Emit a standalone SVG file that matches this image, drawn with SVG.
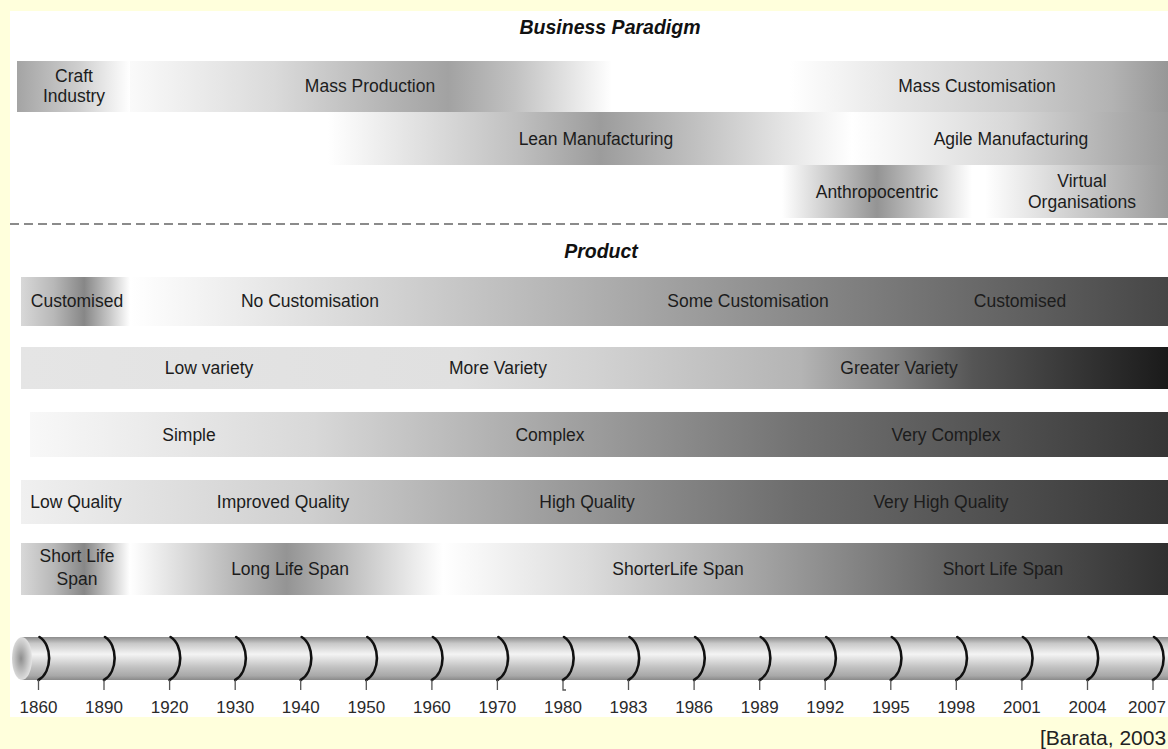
<svg xmlns="http://www.w3.org/2000/svg" width="1168" height="749" viewBox="0 0 1168 749">
  <style>
    .lbl { font-family: "Liberation Sans", Arial, sans-serif; font-size: 17.5px; fill: #1c1c1c; text-anchor: middle; }
    .ttl { font-family: "Liberation Sans", Arial, sans-serif; font-size: 19.5px; font-weight: bold; font-style: italic; fill: #111; text-anchor: middle; }
    .yr { font-family: "Liberation Sans", Arial, sans-serif; font-size: 17px; fill: #2a2a2a; text-anchor: middle; }
    .arc { fill: none; stroke: #111; stroke-width: 2.6; stroke-linecap: round; }
    .tick { fill: none; stroke: #555; stroke-width: 1.3; }
  </style>
  <defs>
    <!-- business paradigm bars -->
    <linearGradient id="gCraft"><stop offset="0" stop-color="#a4a4a4"/><stop offset="0.55" stop-color="#cfcfcf"/><stop offset="1" stop-color="#fff"/></linearGradient>
    <linearGradient id="gMass"><stop offset="0" stop-color="#fafafa"/><stop offset="0.3" stop-color="#dadada"/><stop offset="0.55" stop-color="#b2b2b2"/><stop offset="0.66" stop-color="#a2a2a2"/><stop offset="0.8" stop-color="#c2c2c2"/><stop offset="0.92" stop-color="#e6e6e6"/><stop offset="1" stop-color="#fff"/></linearGradient>
    <linearGradient id="gMassCust"><stop offset="0" stop-color="#fff"/><stop offset="0.3" stop-color="#e4e4e4"/><stop offset="0.6" stop-color="#cdcdcd"/><stop offset="0.85" stop-color="#b3b3b3"/><stop offset="1" stop-color="#979797"/></linearGradient>
    <linearGradient id="gLean"><stop offset="0" stop-color="#fff"/><stop offset="0.13" stop-color="#e8e8e8"/><stop offset="0.36" stop-color="#c0c0c0"/><stop offset="0.52" stop-color="#9c9c9c"/><stop offset="0.7" stop-color="#c0c0c0"/><stop offset="0.86" stop-color="#e2e2e2"/><stop offset="1" stop-color="#fff"/></linearGradient>
    <linearGradient id="gAgile"><stop offset="0" stop-color="#fff"/><stop offset="0.5" stop-color="#d8d8d8"/><stop offset="1" stop-color="#9a9a9a"/></linearGradient>
    <linearGradient id="gPeak"><stop offset="0" stop-color="#fff"/><stop offset="0.5" stop-color="#949494"/><stop offset="1" stop-color="#fff"/></linearGradient>
    <linearGradient id="gVirtual"><stop offset="0" stop-color="#fff"/><stop offset="1" stop-color="#9a9a9a"/></linearGradient>
    <!-- product bars -->
    <linearGradient id="gEarly"><stop offset="0" stop-color="#d8d8d8"/><stop offset="0.3" stop-color="#b8b8b8"/><stop offset="0.58" stop-color="#878787"/><stop offset="0.8" stop-color="#c4c4c4"/><stop offset="1" stop-color="#fff"/></linearGradient>
    <linearGradient id="gCust"><stop offset="0" stop-color="#fff"/><stop offset="0.43" stop-color="#b2b2b2"/><stop offset="1" stop-color="#464646"/></linearGradient>
    <linearGradient id="gVariety"><stop offset="0" stop-color="#e5e5e5"/><stop offset="0.38" stop-color="#e0e0e0"/><stop offset="0.5" stop-color="#d2d2d2"/><stop offset="0.68" stop-color="#b4b4b4"/><stop offset="0.76" stop-color="#858585"/><stop offset="0.83" stop-color="#555"/><stop offset="1" stop-color="#1a1a1a"/></linearGradient>
    <linearGradient id="gComplex"><stop offset="0" stop-color="#f8f8f8"/><stop offset="0.25" stop-color="#d8d8d8"/><stop offset="0.48" stop-color="#a0a0a0"/><stop offset="0.68" stop-color="#717171"/><stop offset="1" stop-color="#363636"/></linearGradient>
    <linearGradient id="gQuality"><stop offset="0" stop-color="#f0f0f0"/><stop offset="0.25" stop-color="#cfcfcf"/><stop offset="0.48" stop-color="#999"/><stop offset="0.68" stop-color="#6c6c6c"/><stop offset="1" stop-color="#363636"/></linearGradient>
    <linearGradient id="gLater"><stop offset="0" stop-color="#fff"/><stop offset="0.2" stop-color="#dcdcdc"/><stop offset="0.45" stop-color="#a0a0a0"/><stop offset="0.7" stop-color="#646464"/><stop offset="1" stop-color="#303030"/></linearGradient>
    <!-- timeline cylinder -->
    <linearGradient id="gTube" x1="0" y1="0" x2="0" y2="1"><stop offset="0" stop-color="#8c8c8c"/><stop offset="0.15" stop-color="#c8c8c8"/><stop offset="0.4" stop-color="#f4f4f4"/><stop offset="0.7" stop-color="#c2c2c2"/><stop offset="0.9" stop-color="#a8a8a8"/><stop offset="1" stop-color="#8a8a8a"/></linearGradient>
    <radialGradient id="gCap" cx="0.45" cy="0.5" r="0.6"><stop offset="0" stop-color="#8e8e8e"/><stop offset="0.6" stop-color="#c8c8c8"/><stop offset="1" stop-color="#ececec"/></radialGradient>
  </defs>

  <!-- page -->
  <rect width="1168" height="749" fill="#ffffdc"/>
  <rect x="10" y="11" width="1158" height="706" fill="#fff"/>

  <text class="ttl" x="610" y="34">Business Paradigm</text>

  <!-- business paradigm -->
  <g id="craft-industry"><rect x="17" y="61" width="113" height="51" fill="url(#gCraft)"/><text class="lbl" x="74" y="82">Craft</text><text class="lbl" x="74" y="102">Industry</text></g>
  <g id="mass-production"><rect x="130" y="61" width="482" height="51" fill="url(#gMass)"/><text class="lbl" x="370" y="92">Mass Production</text></g>
  <g id="mass-customisation"><rect x="790" y="61" width="378" height="51" fill="url(#gMassCust)"/><text class="lbl" x="977" y="92">Mass Customisation</text></g>
  <g id="lean-manufacturing"><rect x="328" y="112" width="524" height="53" fill="url(#gLean)"/><text class="lbl" x="596" y="145">Lean Manufacturing</text></g>
  <g id="agile-manufacturing"><rect x="852" y="112" width="316" height="53" fill="url(#gAgile)"/><text class="lbl" x="1011" y="145">Agile Manufacturing</text></g>
  <g id="anthropocentric"><rect x="782" y="165" width="190" height="53" fill="url(#gPeak)"/><text class="lbl" x="877" y="198">Anthropocentric</text></g>
  <g id="virtual-organisations"><rect x="985" y="165" width="183" height="53" fill="url(#gVirtual)"/><text class="lbl" x="1082" y="187">Virtual</text><text class="lbl" x="1082" y="208">Organisations</text></g>

  <line x1="10" y1="224" x2="1168" y2="224" stroke="#666" stroke-width="1.5" stroke-dasharray="9 5"/>

  <text class="ttl" x="601" y="258">Product</text>

  <!-- product: customisation -->
  <g id="customisation">
    <rect x="21" y="277" width="109" height="49" fill="url(#gEarly)"/>
    <rect x="130" y="277" width="1038" height="49" fill="url(#gCust)"/>
    <text class="lbl" x="77" y="307">Customised</text>
    <text class="lbl" x="310" y="307">No Customisation</text>
    <text class="lbl" x="748" y="307">Some Customisation</text>
    <text class="lbl" x="1020" y="307">Customised</text>
  </g>
  <!-- product: variety -->
  <g id="variety">
    <rect x="21" y="347" width="1147" height="42" fill="url(#gVariety)"/>
    <text class="lbl" x="209" y="374">Low variety</text>
    <text class="lbl" x="498" y="374">More Variety</text>
    <text class="lbl" x="899" y="374">Greater Variety</text>
  </g>
  <!-- product: complexity -->
  <g id="complexity">
    <rect x="30" y="412" width="1138" height="45" fill="url(#gComplex)"/>
    <text class="lbl" x="189" y="441">Simple</text>
    <text class="lbl" x="550" y="441">Complex</text>
    <text class="lbl" x="946" y="441">Very Complex</text>
  </g>
  <!-- product: quality -->
  <g id="quality">
    <rect x="21" y="480" width="1147" height="44" fill="url(#gQuality)"/>
    <text class="lbl" x="76" y="508">Low Quality</text>
    <text class="lbl" x="283" y="508">Improved Quality</text>
    <text class="lbl" x="587" y="508">High Quality</text>
    <text class="lbl" x="941" y="508">Very High Quality</text>
  </g>
  <!-- product: life span -->
  <g id="life-span">
    <rect x="21" y="543" width="109" height="52" fill="url(#gEarly)"/>
    <rect x="130" y="543" width="313" height="52" fill="url(#gPeak)"/>
    <rect x="443" y="543" width="725" height="52" fill="url(#gLater)"/>
    <text class="lbl" x="77" y="562">Short Life</text>
    <text class="lbl" x="77" y="585">Span</text>
    <text class="lbl" x="290" y="575">Long Life Span</text>
    <text class="lbl" x="678" y="575">ShorterLife Span</text>
    <text class="lbl" x="1003" y="575">Short Life Span</text>
  </g>

  <!-- timeline -->
  <g id="timeline">
    <rect x="22" y="637" width="1146" height="43" fill="url(#gTube)"/>
    <ellipse cx="22" cy="658.5" rx="10" ry="21.5" fill="url(#gCap)"/>
  </g>
  <g id="connectors">
    <path class="arc" d="M39.5 637 C52.5 645 52.5 672 38.5 680 M105 637 C118 645 118 672 104 680 M170.6 637 C183.6 645 183.6 672 169.6 680 M236.2 637 C249.2 645 249.2 672 235.2 680 M301.7 637 C314.7 645 314.7 672 300.7 680 M367.3 637 C380.3 645 380.3 672 366.3 680 M432.9 637 C445.9 645 445.9 672 431.9 680 M498.4 637 C511.4 645 511.4 672 497.4 680 M564 637 C577 645 577 672 563 680 M629.5 637 C642.5 645 642.5 672 628.5 680 M695.1 637 C708.1 645 708.1 672 694.1 680 M760.7 637 C773.7 645 773.7 672 759.7 680 M826.2 637 C839.2 645 839.2 672 825.2 680 M891.8 637 C904.8 645 904.8 672 890.8 680 M957.3 637 C970.3 645 970.3 672 956.3 680 M1022.9 637 C1035.9 645 1035.9 672 1021.9 680 M1088.5 637 C1101.5 645 1101.5 672 1087.5 680 M1154 637 C1167 645 1167 672 1153 680"/>
    <path class="tick" d="M38.5 680V690 M104 680V690 M169.6 680V690 M235.2 680V690 M300.7 680V690 M366.3 680V690 M431.9 680V690 M497.4 680V690 M563 680V690H566 M628.5 680V690 M694.1 680V690 M759.7 680V690 M825.2 680V690 M890.8 680V690 M956.3 680V690 M1021.9 680V690 M1087.5 680V690 M1153 680V690"/>
  </g>
  <g id="years">
    <text class="yr" x="38.5" y="713">1860</text>
    <text class="yr" x="104" y="713">1890</text>
    <text class="yr" x="169.6" y="713">1920</text>
    <text class="yr" x="235.2" y="713">1930</text>
    <text class="yr" x="300.7" y="713">1940</text>
    <text class="yr" x="366.3" y="713">1950</text>
    <text class="yr" x="431.9" y="713">1960</text>
    <text class="yr" x="497.4" y="713">1970</text>
    <text class="yr" x="563" y="713">1980</text>
    <text class="yr" x="628.5" y="713">1983</text>
    <text class="yr" x="694.1" y="713">1986</text>
    <text class="yr" x="759.7" y="713">1989</text>
    <text class="yr" x="825.2" y="713">1992</text>
    <text class="yr" x="890.8" y="713">1995</text>
    <text class="yr" x="956.3" y="713">1998</text>
    <text class="yr" x="1021.9" y="713">2001</text>
    <text class="yr" x="1087.5" y="713">2004</text>
    <text class="yr" x="1147" y="713">2007</text>
  </g>

  <text x="1040" y="745" font-family="Liberation Sans, Arial, sans-serif" font-size="21" fill="#222">[Barata, 2003</text>
</svg>
